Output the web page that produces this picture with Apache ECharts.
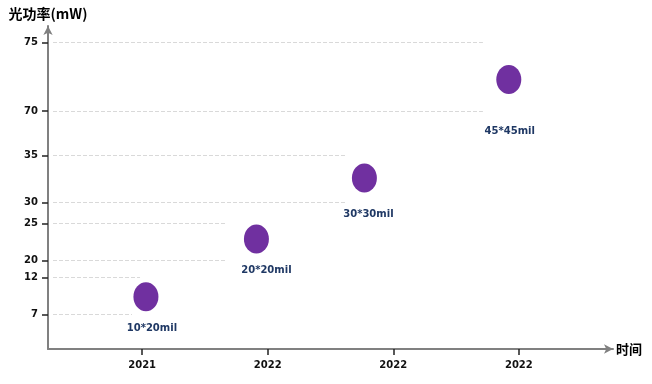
<!DOCTYPE html>
<html>
<head>
<meta charset="utf-8">
<script src="https://cdn.jsdelivr.net/npm/echarts@6/dist/echarts.min.js"></script>
<style>html,body{margin:0;padding:0;background:#fff}#main{width:652px;height:384px}</style>
</head>
<body>
<div id="main"></div>
<script>
// ---- data ----
const categories = ['2021', '2022', '2022', '2022'];
const chipLabels = ['10*20mil', '20*20mil', '30*30mil', '45*45mil'];
const powerValues = [9.4, 22.9, 32.6, 72.3];      // mW
const timePositions = [1.03, 1.91, 2.77, 3.92];   // milestone index
const yTickValues = [7, 12, 20, 25, 30, 35, 70, 75];

// ---- layout (the original axis is hand-drawn / non-linear) ----
const yTickSlots = [34.5, 71.5, 88.5, 125.5, 146.5, 193.5, 238, 306.3];
const gridLineEnds = [0.919, 0.983, 1.676, 1.676, 2.631, 2.631, 3.714, 3.714];
const labelOffsets = [[6, 32], [10, 31], [4, 36], [1, 52]];
const xTickValues = [1, 2, 3, 4];

function yDisplay(v) {
  if (v <= yTickValues[0]) return v / yTickValues[0] * yTickSlots[0];
  for (let i = 0; i < yTickValues.length - 1; i++) {
    const a = yTickValues[i], b = yTickValues[i + 1];
    if (v >= a && v <= b) {
      return yTickSlots[i] + (v - a) / (b - a) * (yTickSlots[i + 1] - yTickSlots[i]);
    }
  }
  return yTickSlots[yTickSlots.length - 1];
}

const chart = echarts.init(document.getElementById('main'), null, {renderer: 'canvas'});
const axisColor = '#808080';
const latin = '"DejaVu Sans", Verdana, sans-serif';

const points = powerValues.map((v, i) => ({
  value: [timePositions[i], yDisplay(v)],
  label: {
    show: true,
    formatter: chipLabels[i],
    position: 'inside',
    offset: labelOffsets[i],
    color: '#1f3864',
    fontFamily: latin,
    fontWeight: 'bold',
    fontSize: 10
  }
}));

const gridLines = yTickValues.map((v, i) => [
  {coord: [0.29, yDisplay(v)]},
  {coord: [gridLineEnds[i], yDisplay(v)]}
]);

chart.setOption({
  animation: false,
  backgroundColor: '#fff',
  grid: {left: 48, right: 39, top: 26, bottom: 35},
  xAxis: {
    type: 'value',
    min: 0.25,
    max: 4.75,
    name: '时间',
    nameLocation: 'end',
    nameGap: 3,
    nameTextStyle: {
      fontFamily: '"Noto Sans CJK SC", sans-serif',
      fontWeight: 'bold',
      fontSize: 13,
      color: '#000',
      padding: [0, 0, 16, 0]
    },
    axisLine: {show: true, symbol: ['none', 'arrow'], symbolSize: [7, 9], lineStyle: {color: axisColor, width: 2}},
    axisTick: {show: true, customValues: xTickValues, length: 6, lineStyle: {color: '#222', width: 1.5}},
    axisLabel: {
      customValues: xTickValues,
      margin: 11,
      formatter: (val) => {
        const i = xTickValues.findIndex(t => Math.abs(t - val) < 1e-6);
        return i >= 0 ? categories[i] : '';
      },
      color: '#111',
      fontFamily: latin,
      fontWeight: 'bold',
      fontSize: 10
    },
    splitLine: {show: false}
  },
  yAxis: {
    type: 'value',
    min: 0,
    max: 323,
    name: '光功率(mW)',
    nameLocation: 'end',
    nameGap: 5,
    nameTextStyle: {
      fontFamily: '"Noto Sans CJK SC", sans-serif',
      fontWeight: 'bold',
      fontSize: 14,
      color: '#000'
    },
    axisLine: {show: true, symbol: ['none', 'arrow'], symbolSize: [7, 9], lineStyle: {color: axisColor, width: 2}},
    axisTick: {show: true, customValues: yTickSlots, length: 6, lineStyle: {color: '#222', width: 1.5}},
    axisLabel: {
      customValues: yTickSlots,
      margin: 10,
      formatter: (val) => {
        const i = yTickSlots.findIndex(t => Math.abs(t - val) < 1e-6);
        return i >= 0 ? String(yTickValues[i]) : '';
      },
      color: '#111',
      fontFamily: latin,
      fontWeight: 'bold',
      fontSize: 10
    },
    splitLine: {show: false}
  },
  series: [{
    type: 'scatter',
    symbol: 'circle',
    symbolSize: [25, 29],
    itemStyle: {color: '#7030a0', opacity: 1},
    data: points,
    markLine: {
      silent: true,
      symbol: ['none', 'none'],
      label: {show: false},
      lineStyle: {color: '#d9d9d9', type: [4, 2], width: 1},
      data: gridLines
    },
    z: 3
  }]
});
</script>
</body>
</html>
